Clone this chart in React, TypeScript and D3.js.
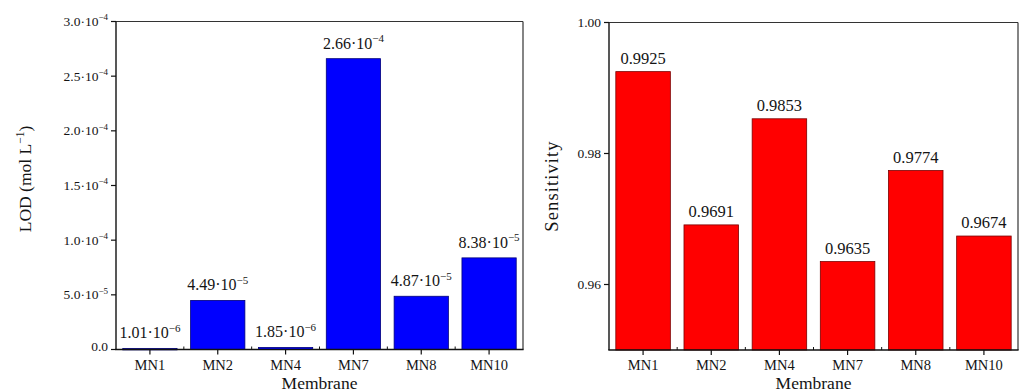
import React from "react";
import * as d3 from "d3";

const categories = ["MN1", "MN2", "MN4", "MN7", "MN8", "MN10"];
const lodValues = [1.01e-6, 4.49e-5, 1.85e-6, 2.66e-4, 4.87e-5, 8.38e-5];
const lodTicks = [0, 5e-5, 1e-4, 1.5e-4, 2e-4, 2.5e-4, 3e-4];
const sensValues = [0.9925, 0.9691, 0.9853, 0.9635, 0.9774, 0.9674];
const sensTicks = [0.96, 0.98, 1.0];

const FONT = "Liberation Serif, DejaVu Serif, Times New Roman, serif";
const TS = { fontFamily: FONT };
const INK = "#141414";

function sciParts(v: number, digits: number): [string, string] {
  const s = v.toExponential(digits);
  const [m, e] = s.split("e");
  return [m, e.replace("-", "\u2212").replace("+", "")];
}

function Sci({ x, y, v, digits, size, supSize, anchor }: any) {
  const [m, e] = sciParts(v, digits);
  return (
    <text x={x} y={y} fontSize={size} textAnchor={anchor} style={TS} fill={INK}>
      {m}·10
      <tspan fontSize={supSize} dy={-size * 0.42}>{e}</tspan>
    </text>
  );
}

function Panel({ values, yDomain, x0, x1, yBottom, yTop, ticks, tickLabel, fill, stroke, valueLabel, yTitle, yTitleX, yTitleY, labelGap }: any) {
  const x = d3.scaleBand<string>().domain(categories).range([x0, x1]).paddingInner(0.2).paddingOuter(0.1);
  const y = d3.scaleLinear().domain(yDomain).range([yBottom, yTop]);
  const step = x.step();
  const outer = x.paddingOuter() * step;
  const bounds = d3.range(1, categories.length).map((i) => x0 + outer + i * step - (step * x.paddingInner()) / 2);
  return (
    <g>
      {categories.map((c, i) => (
        <rect
          key={c}
          x={x(c)}
          y={y(values[i])}
          width={x.bandwidth()}
          height={Math.max(1.5, yBottom - y(values[i]))}
          fill={fill}
          stroke={stroke}
          strokeWidth={0.8}
        />
      ))}
      {categories.map((c, i) => (
        <g key={"l" + c}>{valueLabel(x(c)! + x.bandwidth() / 2, y(values[i]) - labelGap, values[i])}</g>
      ))}
      <line x1={x0} x2={x1} y1={yTop} y2={yTop} stroke="#333" strokeWidth={1.2} />
      <line x1={x1} x2={x1} y1={yTop} y2={yBottom} stroke="#333" strokeWidth={1.2} />
      <line x1={x0} x2={x0} y1={yTop} y2={yBottom} stroke="#111" strokeWidth={1.4} />
      <line x1={x0 - 0.7} x2={x1 + 0.6} y1={yBottom} y2={yBottom} stroke="#111" strokeWidth={1.4} />
      {ticks.map((t: number) => (
        <g key={"t" + t}>
          <line x1={x0 - 5} x2={x0} y1={y(t)} y2={y(t)} stroke="#111" strokeWidth={1.2} />
          {tickLabel(x0 - 8, y(t), t)}
        </g>
      ))}
      {categories.map((c) => (
        <g key={"x" + c}>
          <line x1={x(c)! + x.bandwidth() / 2} x2={x(c)! + x.bandwidth() / 2} y1={yBottom} y2={yBottom + 5} stroke="#111" strokeWidth={1.2} />
          <text x={x(c)! + x.bandwidth() / 2} y={yBottom + 20} fontSize={14.5} textAnchor="middle" style={TS} fill={INK}>
            {c}
          </text>
        </g>
      ))}
      {bounds.map((b: number, i: number) => (
        <line key={"b" + i} x1={b} x2={b} y1={yBottom - 3} y2={yBottom} stroke="#111" strokeWidth={1} />
      ))}
      <text x={(x0 + x1) / 2} y={389} fontSize={17.5} textAnchor="middle" style={TS} fill={INK}>
        Membrane
      </text>
      {yTitle(yTitleX, yTitleY)}
    </g>
  );
}

export default function App() {
  return (
    <svg width={1020} height={392} style={{ position: "absolute", left: 0, top: 0, background: "#fff" }}>
      <Panel
        values={lodValues}
        yDomain={[0, 3e-4]}
        x0={116}
        x1={523}
        yBottom={349.5}
        yTop={21.5}
        ticks={lodTicks}
        fill="#0000ff"
        stroke="#00007a"
        labelGap={10}
        valueLabel={(cx: number, cy: number, v: number) => (
          <Sci x={cx} y={cy} v={v} digits={2} size={16} supSize={11} anchor="middle" />
        )}
        tickLabel={(tx: number, ty: number, t: number) =>
          t === 0 ? (
            <text x={tx} y={ty} dy="0.1em" fontSize={13.5} textAnchor="end" style={TS} fill={INK}>0.0</text>
          ) : (
            <Sci x={tx} y={ty + 4.5} v={t} digits={1} size={13.5} supSize={9} anchor="end" />
          )
        }
        yTitleX={31}
        yTitleY={179}
        yTitle={(tx: number, ty: number) => (
          <text transform={`translate(${tx},${ty}) rotate(-90)`} fontSize={17.5} textAnchor="middle" style={TS} fill={INK}>
            LOD (mol L<tspan fontSize={11.5} dy={-7}>{"\u22121"}</tspan><tspan dy={7}>)</tspan>
          </text>
        )}
      />
      <Panel
        values={sensValues}
        yDomain={[0.95, 1.0]}
        x0={609}
        x1={1018}
        yBottom={350}
        yTop={22.5}
        ticks={sensTicks}
        fill="#ff0000"
        stroke="#7a0000"
        labelGap={8}
        valueLabel={(cx: number, cy: number, v: number) => (
          <text x={cx} y={cy} fontSize={16.5} textAnchor="middle" style={TS} fill={INK}>
            {v.toFixed(4)}
          </text>
        )}
        tickLabel={(tx: number, ty: number, t: number) => (
          <text x={tx} y={ty} dy="0.35em" fontSize={13.5} textAnchor="end" style={TS} fill={INK}>
            {t.toFixed(2)}
          </text>
        )}
        yTitleX={558}
        yTitleY={186}
        yTitle={(tx: number, ty: number) => (
          <text transform={`translate(${tx},${ty}) rotate(-90)`} fontSize={18.5} letterSpacing={1.1} textAnchor="middle" style={TS} fill={INK}>
            Sensitivity
          </text>
        )}
      />
    </svg>
  );
}
